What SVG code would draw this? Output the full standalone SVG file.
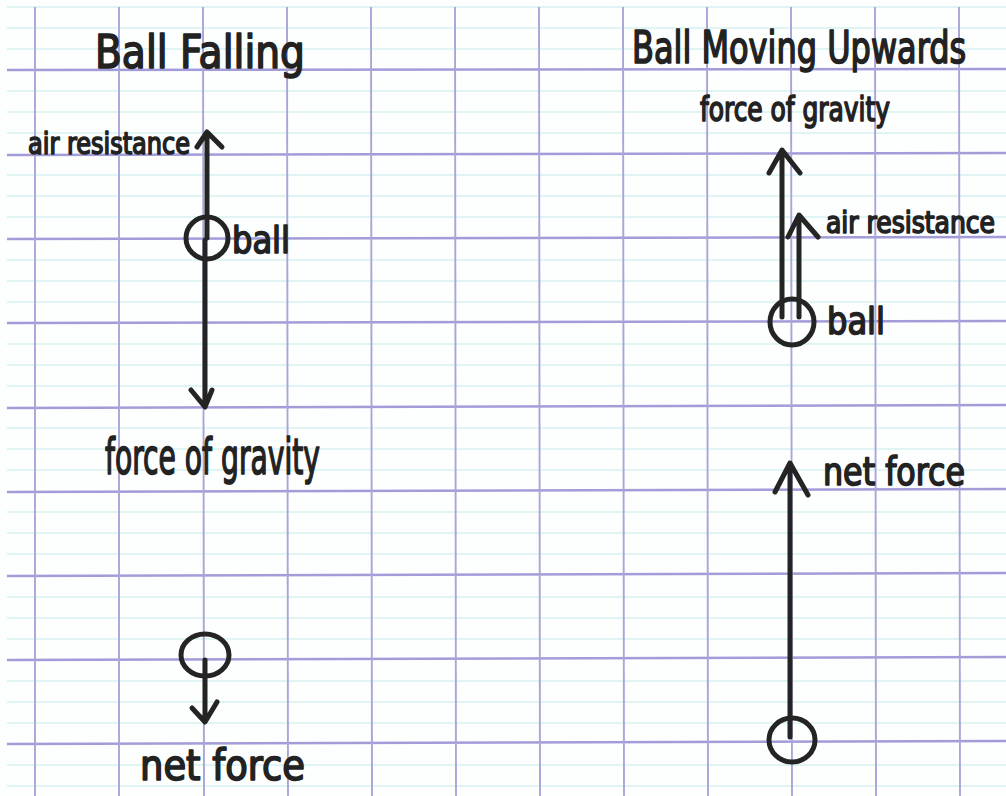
<svg xmlns="http://www.w3.org/2000/svg" width="1006" height="796" viewBox="0 0 1006 796">
  <style>
    .paper { fill: #fdfefe; }
    .fine { stroke: #d6f1f1; stroke-width: 1.6; }
    .major { stroke: #a29cd9; stroke-width: 2.4; }
    .vert { stroke: #aaa5d9; stroke-width: 1.9; }
    .ink { fill: none; stroke: #242424; stroke-width: 5; stroke-linecap: round; stroke-linejoin: round; }
    .hand { font-family: "DejaVu Sans Condensed", "DejaVu Sans", "Liberation Sans", sans-serif; fill: #222222; stroke: #222222; stroke-width: 1.6; stroke-linejoin: round; }
  </style>

  <!-- graph paper -->
  <rect class="paper" x="0" y="0" width="1006" height="796"/>
  <g id="fine-rules">
    <line class="fine" x1="7" y1="7" x2="1006" y2="7"/>
    <line class="fine" x1="7" y1="28" x2="1006" y2="28"/>
    <line class="fine" x1="7" y1="49" x2="1006" y2="49"/>
    <line class="fine" x1="7" y1="91" x2="1006" y2="91"/>
    <line class="fine" x1="7" y1="112" x2="1006" y2="112"/>
    <line class="fine" x1="7" y1="133" x2="1006" y2="133"/>
    <line class="fine" x1="7" y1="175" x2="1006" y2="175"/>
    <line class="fine" x1="7" y1="196" x2="1006" y2="196"/>
    <line class="fine" x1="7" y1="217" x2="1006" y2="217"/>
    <line class="fine" x1="7" y1="260" x2="1006" y2="260"/>
    <line class="fine" x1="7" y1="281" x2="1006" y2="281"/>
    <line class="fine" x1="7" y1="302" x2="1006" y2="302"/>
    <line class="fine" x1="7" y1="344" x2="1006" y2="344"/>
    <line class="fine" x1="7" y1="365" x2="1006" y2="365"/>
    <line class="fine" x1="7" y1="386" x2="1006" y2="386"/>
    <line class="fine" x1="7" y1="428" x2="1006" y2="428"/>
    <line class="fine" x1="7" y1="449" x2="1006" y2="449"/>
    <line class="fine" x1="7" y1="470" x2="1006" y2="470"/>
    <line class="fine" x1="7" y1="512" x2="1006" y2="512"/>
    <line class="fine" x1="7" y1="533" x2="1006" y2="533"/>
    <line class="fine" x1="7" y1="554" x2="1006" y2="554"/>
    <line class="fine" x1="7" y1="597" x2="1006" y2="597"/>
    <line class="fine" x1="7" y1="618" x2="1006" y2="618"/>
    <line class="fine" x1="7" y1="639" x2="1006" y2="639"/>
    <line class="fine" x1="7" y1="681" x2="1006" y2="681"/>
    <line class="fine" x1="7" y1="702" x2="1006" y2="702"/>
    <line class="fine" x1="7" y1="723" x2="1006" y2="723"/>
    <line class="fine" x1="7" y1="765" x2="1006" y2="765"/>
    <line class="fine" x1="7" y1="786" x2="1006" y2="786"/>
  </g>
  <g id="major-rules">
    <line class="major" x1="7" y1="70" x2="1006" y2="69"/>
    <line class="major" x1="7" y1="155" x2="1006" y2="153"/>
    <line class="major" x1="7" y1="239" x2="1006" y2="237"/>
    <line class="major" x1="7" y1="323" x2="1006" y2="321"/>
    <line class="major" x1="7" y1="408" x2="1006" y2="405"/>
    <line class="major" x1="7" y1="492" x2="1006" y2="489"/>
    <line class="major" x1="7" y1="576" x2="1006" y2="573"/>
    <line class="major" x1="7" y1="660" x2="1006" y2="657"/>
    <line class="major" x1="7" y1="744" x2="1006" y2="741"/>
  </g>
  <g id="verticals">
    <line class="vert" x1="35" y1="7" x2="35" y2="796"/>
    <line class="vert" x1="119" y1="7" x2="119" y2="796"/>
    <line class="vert" x1="203" y1="7" x2="204" y2="796"/>
    <line class="vert" x1="287" y1="7" x2="288" y2="796"/>
    <line class="vert" x1="371" y1="7" x2="372" y2="796"/>
    <line class="vert" x1="455" y1="7" x2="456" y2="796"/>
    <line class="vert" x1="539" y1="7" x2="540" y2="796"/>
    <line class="vert" x1="623" y1="7" x2="624" y2="796"/>
    <line class="vert" x1="707" y1="7" x2="708" y2="796"/>
    <line class="vert" x1="791" y1="7" x2="792" y2="796"/>
    <line class="vert" x1="875" y1="7" x2="876" y2="796"/>
    <line class="vert" x1="959" y1="7" x2="960" y2="796"/>
  </g>

  <!-- titles -->
  <g id="title-falling">
    <text class="hand" x="95" y="68" font-size="46" textLength="210" lengthAdjust="spacingAndGlyphs">Ball Falling</text>
  </g>
  <g id="title-upwards">
    <text class="hand" transform="translate(632 63) scale(0.79 1)" x="0" y="0" font-size="45">Ball Moving Upwards</text>
  </g>

  <!-- falling ball: forces -->
  <g id="ball-falling">
    <circle class="ink" cx="207" cy="238" r="21"/>
    <text class="hand" x="232" y="253" font-size="38" textLength="58" lengthAdjust="spacingAndGlyphs">ball</text>
  </g>
  <g id="label-air-resistance-left">
    <text class="hand" x="28" y="154" font-size="31" textLength="162" lengthAdjust="spacingAndGlyphs">air resistance</text>
  </g>
  <g id="label-gravity-left">
    <text class="hand" x="105" y="474" font-size="50" textLength="215" lengthAdjust="spacingAndGlyphs">force of gravity</text>
  </g>

  <!-- falling ball: net force -->
  <g id="ball-falling-net">
    <ellipse class="ink" cx="205" cy="655" rx="24" ry="21"/>
  </g>
  <g id="label-net-left">
    <text class="hand" x="140" y="780" font-size="42" textLength="165" lengthAdjust="spacingAndGlyphs">net force</text>
  </g>

  <!-- upward ball: forces -->
  <g id="ball-upwards">
    <ellipse class="ink" cx="792" cy="322" rx="22" ry="23"/>
    <text class="hand" x="827" y="334" font-size="38" textLength="58" lengthAdjust="spacingAndGlyphs">ball</text>
  </g>
  <g id="label-gravity-right">
    <text class="hand" x="700" y="121" font-size="34" textLength="190" lengthAdjust="spacingAndGlyphs">force of gravity</text>
  </g>
  <g id="label-air-resistance-right">
    <text class="hand" x="826" y="233" font-size="30" textLength="169" lengthAdjust="spacingAndGlyphs">air resistance</text>
  </g>

  <!-- upward ball: net force -->
  <g id="ball-upwards-net">
    <ellipse class="ink" cx="792" cy="740" rx="23" ry="22"/>
  </g>
  <g id="label-net-right">
    <text class="hand" x="823" y="485" font-size="39" textLength="142" lengthAdjust="spacingAndGlyphs">net force</text>
  </g>

  <!-- force arrows -->
  <g id="connectors">
    <!-- air resistance on the falling ball (up) -->
    <path class="ink" d="M207 238 L207 133 M197 147 L207 132 L222 147"/>
    <!-- gravity on the falling ball (down) -->
    <path class="ink" d="M205 240 L205 406 M191 390 L205 407 L212 390"/>
    <!-- net force on the falling ball (down) -->
    <path class="ink" d="M205 660 L205 721 M192 708 L205 722 L217 702"/>
    <!-- gravity on the upward ball (up) -->
    <path class="ink" d="M782 317 L782 151 M769 173 L782 150 L800 173"/>
    <!-- air resistance on the upward ball (up) -->
    <path class="ink" d="M799 317 L799 216 M788 237 L799 215 L818 237"/>
    <!-- net force on the upward ball (up) -->
    <path class="ink" d="M790 737 L790 464 M775 492 L790 463 L808 495"/>
  </g>
</svg>
